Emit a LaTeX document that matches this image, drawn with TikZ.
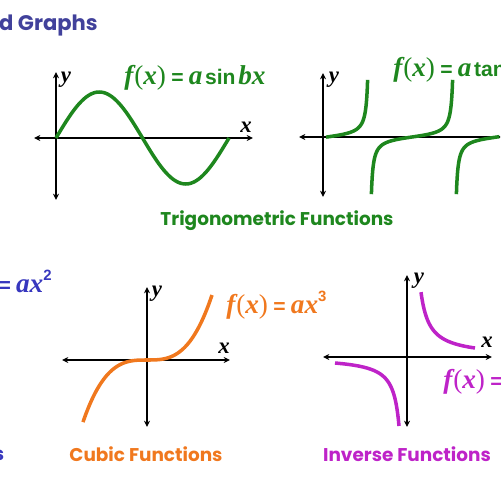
\documentclass[tikz,border=0pt]{standalone}
\usepackage{fontspec}
\setmainfont{Liberation Serif}
\newfontfamily\gothic{Poppins}
\newfontfamily\arialf{Liberation Sans}
\usetikzlibrary{arrows.meta}
\definecolor{trig}{RGB}{30,135,30}
\definecolor{ttl}{RGB}{65,65,155}
\definecolor{quad}{RGB}{55,55,190}
\definecolor{cub}{RGB}{240,120,30}
\definecolor{inv}{RGB}{190,35,200}
\newcommand{\mi}[1]{{\bfseries\itshape #1}}
\newcommand{\op}[1]{{\arialf\bfseries\fontsize{12}{14}\selectfont #1}}
\newcommand{\supr}[1]{\raisebox{6.5pt}{\arialf\bfseries\fontsize{8.5}{10}\selectfont #1}}
\newcommand{\fofx}{\mi{f}\kern0.5pt(\mi{x})}
\begin{document}
\begin{tikzpicture}[x=0.02cm,y=-0.02cm,
  axis/.style={line width=1.1pt,<->,>={Stealth[length=3.6pt,width=3.4pt]}},
  curve/.style={line width=2pt},
  formula/.style={inner sep=0pt,font=\fontsize{15.5}{18}\selectfont},
  alabel/.style={inner sep=0pt,font=\fontsize{13}{15}\selectfont\bfseries\itshape},
  caption/.style={inner sep=0pt,font=\gothic\bfseries\fontsize{10.5}{12}\selectfont}]
\useasboundingbox (0,0) rectangle (500,500);
\clip (0,0) rectangle (500,500);
% title
\node[inner sep=0pt,anchor=base east,text=ttl,font=\gothic\bfseries\fontsize{12}{14}\selectfont] (title) at (98,31) {Functions and Graphs};
% ---- sine ----
\draw[axis] (34,138) -- (253,138);
\draw[axis] (56,72) -- (56,200);
\draw[curve,trig] plot[domain=0:360,samples=120] ({56+\x/360*173},{138-46*sin(\x)});
\node[alabel] (sy) at (66,80) {y};
\node[alabel] (sx) at (246,127) {x};
\node[formula,text=trig,anchor=base west] (sf) at (124,85) {\fofx\kern3pt\op{=}\kern3pt\mi{a}\kern1.5pt\op{sin}\kern1.5pt\mi{bx}};
% ---- tan ----
\draw[axis] (299,137) -- (520,137);
\draw[axis] (323,73) -- (323,197);
\draw[curve,trig] plot[domain=-2:86,samples=120] ({327+\x/180*85},{137-4*tan(\x)});
\draw[curve,trig] plot[domain=-86:86,samples=200] ({412+\x/180*85},{137-4*tan(\x)});
\draw[curve,trig] plot[domain=-86:5,samples=120] ({497+\x/180*85},{137-4*tan(\x)});
\node[alabel] (ty) at (334,80) {y};
\node[formula,text=trig,anchor=base west] (tf) at (393,77) {\fofx\kern3pt\op{=}\kern3pt\mi{a}\kern1.5pt\op{tan}\kern1.5pt\mi{bx}};
\node[caption,text=trig] (trigcap) at (277,221) {Trigonometric Functions};
% ---- quadratic (cut off) ----
\node[formula,text=quad,anchor=base east] (qf) at (52,292) {\fofx\kern3pt\op{=}\kern3pt\mi{ax}\supr{2}};
\node[caption,text=quad,anchor=east] (qcap) at (4.5,454) {Quadratic Functions};
% ---- cubic ----
\draw[axis] (62,360) -- (230,360);
\draw[axis] (147,287) -- (147,427);
\draw[curve,cub] plot[domain=-0.985:1,samples=100] ({147+65*\x},{360-65*\x*\x*\x});
\node[alabel] (cy) at (157,294) {y};
\node[alabel] (cx) at (224,348) {x};
\node[formula,text=cub,anchor=base west] (cf) at (226,313) {\fofx\kern3pt\op{=}\kern3pt\mi{ax}\supr{3}};
\node[caption,text=cub] (ccap) at (146,454) {Cubic Functions};
% ---- inverse ----
\draw[axis] (323,357) -- (492,357);
\draw[axis] (407,275) -- (407,427);
\draw[curve,inv] plot[domain=14:68,samples=100] ({407+\x},{357-564/(\x-5.3)});
\draw[curve,inv] plot[domain=-72:-8,samples=100] ({407+\x},{357+421/(-\x-1.9)});
\node[alabel] (iy) at (419,281) {y};
\node[alabel] (ix) at (487,342) {x};
\node[formula,text=inv,anchor=base west] (if) at (443,388) {\fofx\kern3pt\op{=}\kern3pt$\frac{a}{x}$};
\node[caption,text=inv] (icap) at (407,454) {Inverse Functions};
\end{tikzpicture}
\end{document}
